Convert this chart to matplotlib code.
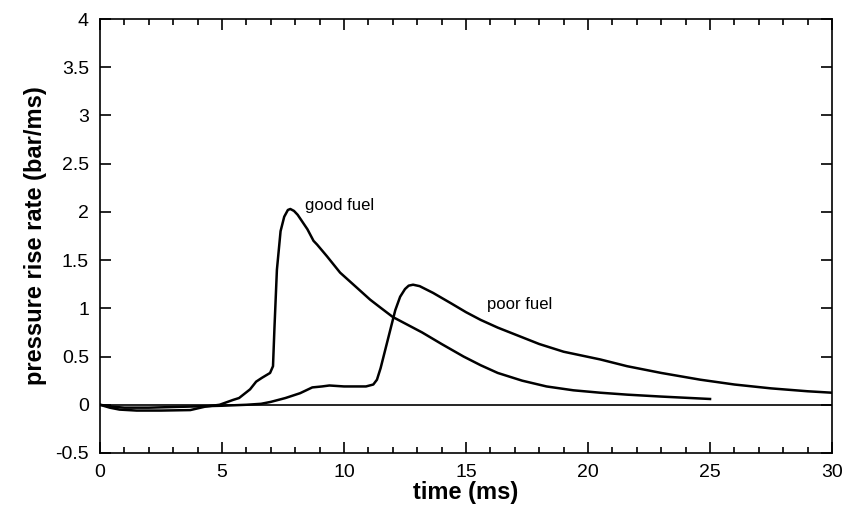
import numpy as np
import matplotlib.pyplot as plt

plt.rcParams['font.family'] = ['Liberation Sans', 'DejaVu Sans']

# good fuel curve (time ms, pressure rise rate bar/ms)
good_t = [0, 0.4, 0.8, 1.5, 2.5, 3.7, 4.3, 4.9, 5.45, 5.7, 6.15, 6.4, 6.64, 6.97, 7.09,
          7.15, 7.25, 7.4, 7.55, 7.7, 7.8, 7.95, 8.1, 8.5, 8.75, 8.9, 9.3, 9.84, 10.5,
          11.07, 11.48, 12.0, 12.6, 13.2, 14.0, 14.9, 15.6, 16.3, 17.3, 18.3, 19.4,
          20.5, 21.6, 23.0, 25.0]
good_y = [0, -0.03, -0.05, -0.06, -0.06, -0.055, -0.02, 0.0, 0.05, 0.07, 0.16, 0.24, 0.28, 0.33, 0.40,
          0.8, 1.4, 1.8, 1.95, 2.02, 2.03, 2.01, 1.97, 1.82, 1.7, 1.66, 1.54, 1.37, 1.22,
          1.09, 1.01, 0.91, 0.83, 0.75, 0.63, 0.5, 0.41, 0.33, 0.25, 0.19, 0.15,
          0.125, 0.105, 0.085, 0.06]

# poor fuel curve
poor_t = [0, 0.5, 1.0, 2.0, 3.5, 5.0, 6.0, 6.6, 7.0, 7.6, 8.2, 8.7, 9.1, 9.4, 10.0, 10.9,
          11.2, 11.35, 11.5, 11.7, 11.9, 12.1, 12.3, 12.5, 12.65, 12.83, 13.1, 13.65,
          14.4, 15.0, 15.6, 16.3, 17.1, 18.0, 19.0, 20.5, 21.6, 23.0, 24.6, 26.0, 27.5, 29.0, 30.0]
poor_y = [0, -0.02, -0.03, -0.03, -0.02, -0.01, 0.0, 0.01, 0.03, 0.07, 0.12, 0.18, 0.19, 0.20, 0.19, 0.19,
          0.21, 0.26, 0.38, 0.58, 0.78, 0.98, 1.12, 1.2, 1.235, 1.245, 1.23, 1.16,
          1.05, 0.96, 0.88, 0.80, 0.72, 0.63, 0.55, 0.47, 0.40, 0.33, 0.26, 0.21, 0.17, 0.14, 0.125]

fig = plt.figure(figsize=(8.46, 5.22), dpi=100)
ax = fig.add_axes([0.1182, 0.1322, 0.8653, 0.8314])

ax.axhline(0, color='black', lw=1.2)
ax.plot(good_t, good_y, color='black', lw=1.8)
ax.plot(poor_t, poor_y, color='black', lw=1.8)

ax.text(8.4, 2.07, 'good fuel', fontsize=12, va='center')
ax.text(15.86, 1.04, 'poor fuel', fontsize=12, va='center')

ax.set_xlim(0, 30)
ax.set_ylim(-0.5, 4)
ax.set_xticks(np.arange(0, 31, 5))
ax.set_xticks(np.arange(0, 31, 1), minor=True)
ax.set_yticks(np.arange(-0.5, 4.01, 0.5))
ax.set_yticklabels(['-0.5', '0', '0.5', '1', '1.5', '2', '2.5', '3', '3.5', '4'])
ax.tick_params(which='both', direction='in', top=True, right=True, labelsize=14, width=1.2)
ax.tick_params(which='major', length=8, pad=8)
ax.tick_params(which='minor', length=4)
for s in ax.spines.values():
    s.set_linewidth(1.2)

ax.set_xlabel('time (ms)', fontsize=17, fontweight='bold', labelpad=0)
ax.set_ylabel('pressure rise rate (bar/ms)', fontsize=17, fontweight='bold', labelpad=6)

fig.savefig('out.png', dpi=100)
